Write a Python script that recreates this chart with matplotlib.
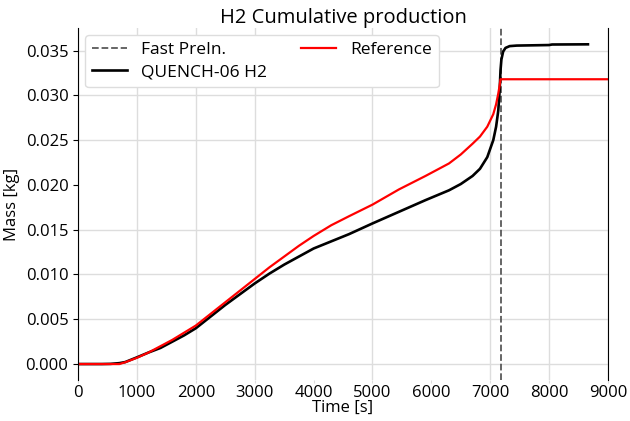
import matplotlib
matplotlib.use("Agg")
import matplotlib.pyplot as plt
import matplotlib.ticker as mticker

plt.rcParams['font.family'] = ['Open Sans', 'DejaVu Sans']

# QUENCH-06 H2 (black)
t_exp = [0, 400, 550, 700, 800, 1000, 1200, 1400, 1600, 1800, 2000, 2250, 2500,
         2750, 3000, 3250, 3500, 3750, 4000, 4300, 4600, 5000, 5450, 5900, 6300,
         6500, 6700, 6826, 6950, 7052, 7100, 7137, 7160, 7175, 7190, 7220, 7260,
         7330, 7450, 8000, 8050, 8660]
m_exp = [0.0, 0.0, 0.00002, 0.0001, 0.00022, 0.00075, 0.0013, 0.0018, 0.0025,
         0.0032, 0.0040, 0.0053, 0.0066, 0.0078, 0.0090, 0.0101, 0.0111, 0.0120,
         0.0129, 0.0137, 0.0145, 0.0157, 0.0170, 0.0183, 0.0194, 0.0201, 0.0210,
         0.0218, 0.0231, 0.0250, 0.0265, 0.0283, 0.0305, 0.0328, 0.0340, 0.0349,
         0.0353, 0.0355, 0.03556, 0.03562, 0.03568, 0.0357]

# Reference (red)
t_ref = [0, 700, 800, 1000, 1200, 1400, 1600, 1800, 2000, 2250, 2500, 2750, 3000,
         3250, 3500, 3750, 4000, 4300, 4600, 5000, 5450, 5900, 6300, 6500, 6700,
         6826, 6950, 7052, 7100, 7137, 7160, 7175, 9000]
m_ref = [0.0, 0.0, 0.0002, 0.0007, 0.0013, 0.0020, 0.0027, 0.0035, 0.0043, 0.0056,
         0.0069, 0.0082, 0.0095, 0.0108, 0.0120, 0.0132, 0.0143, 0.0155, 0.0165,
         0.0178, 0.0195, 0.0210, 0.0224, 0.0234, 0.0246, 0.0254, 0.0265, 0.0279,
         0.0290, 0.0302, 0.0311, 0.0318, 0.0318]

t_fast = 7180

x_ticks = list(range(0, 9001, 1000))
y_ticks = [0.0, 0.005, 0.01, 0.015, 0.02, 0.025, 0.03, 0.035]

fig = plt.figure(figsize=(6.3, 4.21), dpi=100)
ax = fig.add_axes([0.124, 0.097, 0.841, 0.836])

ax.axvline(t_fast, color='0.35', ls='--', lw=1.3, label='Fast PreIn.')
ax.plot(t_exp, m_exp, color='black', lw=1.9, label='QUENCH-06 H2')
ax.plot(t_ref, m_ref, color='red', lw=1.6, label='Reference')

ax.set_xlim(0, 9000)
ax.set_ylim(-0.0018, 0.0375)
ax.set_xticks(x_ticks)
ax.set_yticks(y_ticks)
ax.yaxis.set_major_formatter(mticker.FormatStrFormatter('%.3f'))
ax.grid(True, color='#dddddd', lw=1)
ax.set_axisbelow(True)
# some grid lines are not visible in the reference
for i, gl in enumerate(ax.xaxis.get_gridlines()):
    if x_ticks[i] in (4000, 6000):
        gl.set_visible(False)
for i, gl in enumerate(ax.yaxis.get_gridlines()):
    if abs(y_ticks[i] - 0.02) < 1e-9:
        gl.set_visible(False)
ax.spines['top'].set_visible(False)
ax.spines['bottom'].set_visible(False)
ax.tick_params(labelsize=12)
ax.tick_params(axis='x', length=2, pad=1.5, color='#dddddd')
ax.set_xlabel('Time [s]', fontsize=12, labelpad=-1)
ax.set_ylabel('Mass [kg]', fontsize=12, labelpad=4)
ax.set_title('H2 Cumulative production', fontsize=14.5, pad=3)
ax.legend(loc='upper left', ncol=2, fontsize=12.5, columnspacing=2.0,
          framealpha=1, edgecolor='#dddddd', borderaxespad=0.4,
          labelspacing=0.35)

fig.savefig('out.png', dpi=100)
